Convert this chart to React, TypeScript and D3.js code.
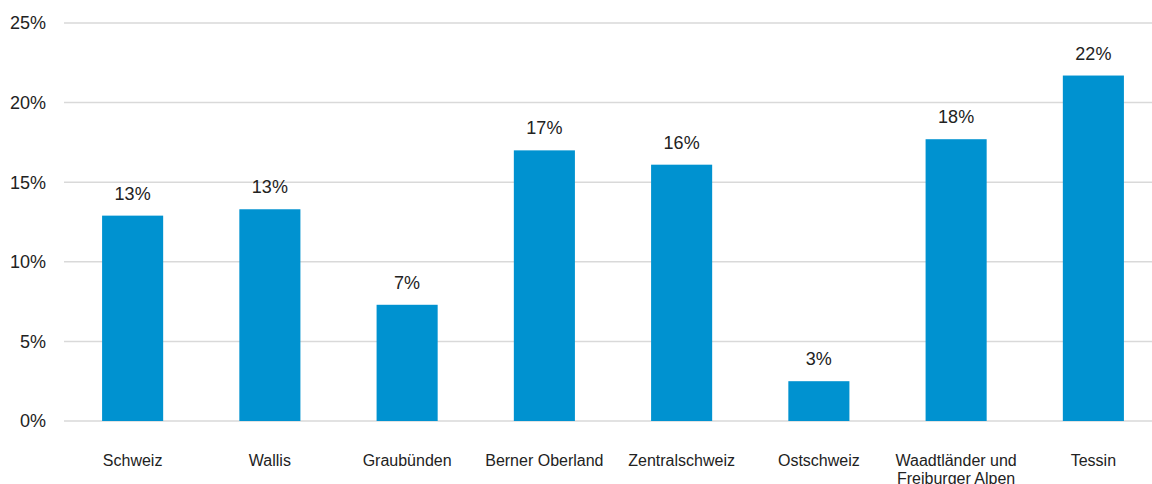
import React from "react";
import * as d3 from "d3";

const categories = [
  "Schweiz",
  "Wallis",
  "Graubünden",
  "Berner Oberland",
  "Zentralschweiz",
  "Ostschweiz",
  "Waadtländer und\nFreiburger Alpen",
  "Tessin",
];
const values = [12.9, 13.3, 7.3, 17.0, 16.1, 2.5, 17.7, 21.7];
const valueLabels = ["13%", "13%", "7%", "17%", "16%", "3%", "18%", "22%"];
const yTicks = [0, 5, 10, 15, 20, 25];

const App = () => {
  const width = 1152;
  const height = 484;
  const left = 64;
  const right = 1162;
  const top = 23;
  const bottom = 421;

  const x = d3.scaleBand().domain(categories).range([left, right]).paddingInner(0.555).paddingOuter(0.2775);
  const y = d3.scaleLinear().domain([0, 25]).range([bottom, top]);

  const font = "Arial, 'Liberation Sans', sans-serif";

  return (
    <svg width={width} height={height} style={{ position: "absolute", left: 0, top: 0 }}>
      <rect width={width} height={height} fill="#fff" />
      {yTicks.map((t) => (
        <g key={t}>
          <line x1={left} x2={1152} y1={y(t)} y2={y(t)} stroke="#d9d9d9" strokeWidth={1.5} />
          <text x={46} y={y(t)} dy="0.35em" textAnchor="end" fontFamily={font} fontSize={18} fill="#222">
            {t}%
          </text>
        </g>
      ))}
      {categories.map((c, i) => {
        const bx = x(c)!;
        const cx = bx + x.bandwidth() / 2;
        return (
          <g key={c}>
            <rect x={bx} y={y(values[i])} width={x.bandwidth()} height={y(0) - y(values[i])} fill="#0092d0" />
            <text x={cx} y={y(values[i]) - 16} textAnchor="middle" fontFamily={font} fontSize={18} fill="#222">
              {valueLabels[i]}
            </text>
            <text textAnchor="middle" fontFamily={font} fontSize={16} fill="#222">
              {c.split("\n").map((line, j) => (
                <tspan key={j} x={cx} y={466 + j * 18}>
                  {line}
                </tspan>
              ))}
            </text>
          </g>
        );
      })}
    </svg>
  );
};

export default App;
